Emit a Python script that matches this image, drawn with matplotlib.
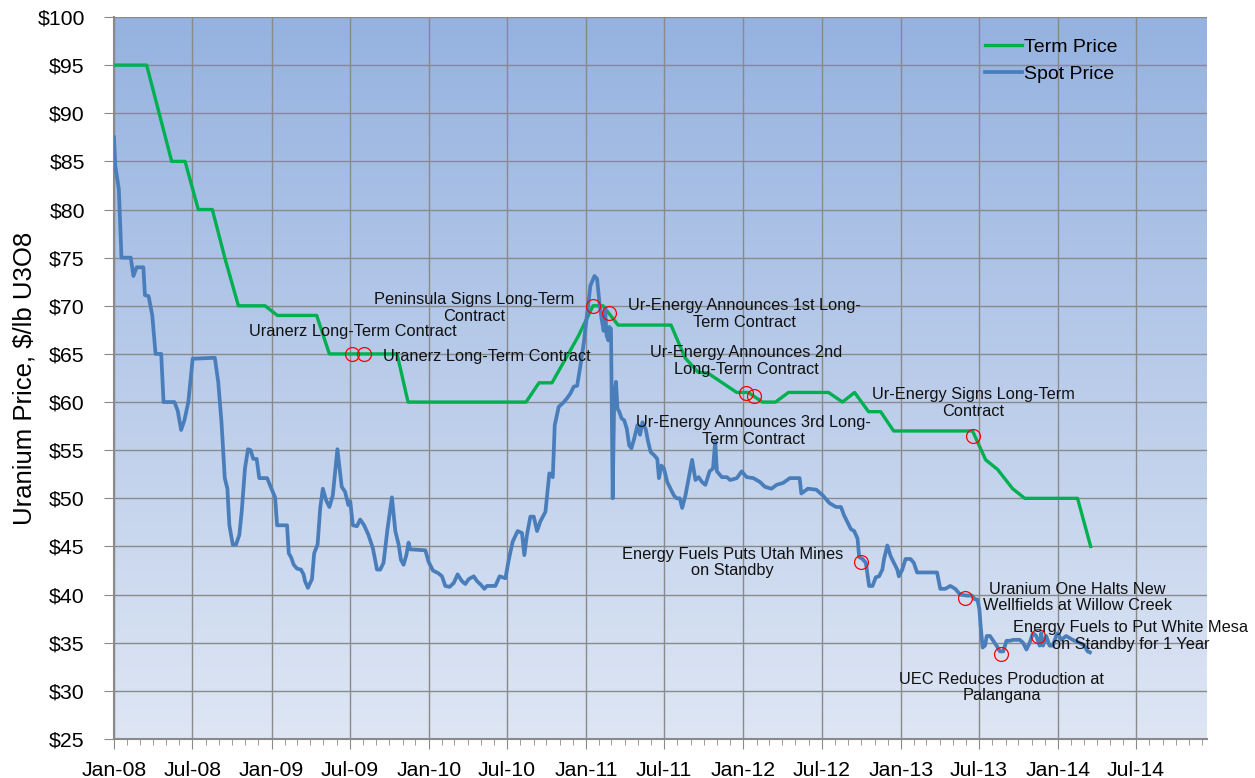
import numpy as np
import matplotlib
matplotlib.use("Agg")
import matplotlib.pyplot as plt
import matplotlib.dates as mdates
from matplotlib.ticker import FixedLocator, FixedFormatter
import datetime as dt

plt.rcParams['font.family'] = ['Liberation Sans', 'DejaVu Sans']

# ---------------- data (months since Jan-2008, $/lb) ----------------
term_month = [0, 2.49, 4.40, 5.42, 6.43, 7.5, 8.45, 9.49, 11.52, 12.46, 15.46, 16.43,
              21.59, 22.43, 31.43, 32.42, 33.41, 35.40, 36.54, 37.3, 38.45, 42.49,
              43.56, 44.55, 45.31, 47.5, 48.37, 49.47, 50.46, 51.45, 54.5, 55.57,
              56.49, 57.56, 58.48, 59.47, 65.49, 66.49, 67.40, 68.55, 69.47, 73.5, 74.5]
term_price = [95, 95, 85, 85, 80, 80, 75, 70, 70, 69, 69, 65,
              65, 60, 60, 62, 62, 66.8, 70, 70, 68, 68,
              64.6, 63.1, 63, 61, 61, 60, 60, 61, 61, 60,
              61, 59, 59, 57, 57, 54, 53, 51, 50, 50, 45]

spot_month = [0, 0.1, 0.37, 0.57, 1.28, 1.48, 1.73, 2.24, 2.36, 2.64,
              2.92, 3.17, 3.6, 3.78, 4.61, 4.86, 5.12, 5.37, 5.67, 6.0,
              7.69, 7.95, 8.2, 8.45, 8.65, 8.8, 9.06, 9.31, 9.56, 9.74,
              9.99, 10.22, 10.42, 10.62, 10.88, 11.08, 11.68, 12.04, 12.29, 12.44,
              13.2, 13.33, 13.5, 13.71, 13.96, 14.26, 14.46, 14.57, 14.79, 15.1,
              15.27, 15.53, 15.73, 15.93, 16.18, 16.43, 16.69, 17.04, 17.37, 17.62, 17.88,
              18.02, 18.22, 18.53, 18.78, 19.08, 19.41, 19.75, 20.06, 20.31, 20.56,
              20.87, 21.2, 21.46, 21.71, 21.89, 22.09, 22.3, 22.47, 22.6, 23.75,
              24.0, 24.33, 24.76, 25.02, 25.27, 25.6, 25.91, 26.21, 26.54, 26.8,
              27.05, 27.44, 27.69, 28.0, 28.25, 28.45, 29.09, 29.42, 29.86, 30.11,
              30.41, 30.79, 31.12, 31.3, 31.5, 31.76, 32.02, 32.27, 32.52, 32.91,
              33.21, 33.47, 33.62, 33.92, 34.31, 34.56, 34.82, 35.07, 35.33, 35.58,
              35.84, 36.14, 36.34,
              36.65, 36.85, 37.03, 37.2, 37.35, 37.46, 37.58, 37.71, 37.79, 37.91,
              38.04, 38.16, 38.29, 38.41, 38.54, 38.72, 38.92, 39.12, 39.3, 39.47,
              39.68, 39.93, 40.13, 40.31, 40.56, 40.74, 40.94, 41.19, 41.44, 41.57,
              41.75, 41.95, 42.2, 42.45, 42.71, 42.91, 43.16, 43.34, 43.59, 43.84,
              44.1, 44.35, 44.6, 44.85, 45.11, 45.43, 45.69, 45.86, 45.99, 46.37,
              46.75, 47.0, 47.51, 47.88, 48.26, 48.77, 49.27, 49.65, 50.15, 50.54,
              51.04, 51.55, 52.3, 52.43, 52.93, 53.57, 54.07, 54.58, 55.08,
              55.45, 55.7, 55.96, 56.21, 56.46, 56.72, 56.84, 57.1, 57.35, 57.6,
              57.86, 58.11, 58.36, 58.61, 58.74, 58.99, 59.24, 59.49, 59.75, 59.87,
              60.13, 60.38, 60.76, 61.01, 61.26, 61.52, 62.78, 63.03, 63.41, 63.79,
              64.17, 64.55, 65.05, 65.43, 65.68, 65.86, 66.01, 66.11, 66.26, 66.44,
              66.57, 66.82, 67.07, 67.32, 67.58, 67.83, 68.08, 68.33, 68.59, 69.09,
              69.34, 69.6, 69.85, 70.1, 70.35, 70.61, 70.73, 70.86, 71.11, 71.36,
              71.62, 71.87, 71.99, 72.25, 72.63, 73.13, 73.64, 74.02, 74.27, 74.44]
spot_price = [87.5, 84.5, 82.1, 75.0, 75.0, 73.1, 74.0, 74.0, 71.1, 71.0,
              69.0, 65.0, 65.0, 60.0, 60.0, 59.1, 57.1, 58.1, 60.0, 64.5,
              64.6, 62.1, 57.9, 52.1, 51.0, 47.2, 45.2, 45.2, 46.2, 48.6,
              53.1, 55.1, 55.0, 54.1, 54.1, 52.1, 52.1, 50.9, 50.1, 47.2,
              47.2, 44.3, 43.9, 43.1, 42.7, 42.6, 42.1, 41.4, 40.7, 41.6,
              44.3, 45.2, 49.0, 51.0, 49.8, 49.1, 50.3, 55.1, 51.2, 50.7, 49.3,
              49.7, 47.2, 47.1, 47.8, 47.2, 46.2, 44.8, 42.6, 42.6, 43.3,
              46.9, 50.1, 46.6, 45.2, 43.6, 43.1, 44.1, 45.4, 44.7, 44.6,
              43.4, 42.5, 42.2, 41.9, 40.9, 40.8, 41.2, 42.1, 41.4, 41.1,
              41.6, 41.9, 41.4, 41.0, 40.6, 40.9, 40.9, 41.9, 41.7, 43.6,
              45.5, 46.6, 46.4, 44.1, 46.2, 48.1, 48.1, 46.6, 47.6, 48.6,
              52.6, 52.2, 57.6, 59.5, 60.0, 60.4, 60.9, 61.6, 61.7, 63.8,
              66.2, 69.7, 72.1,
              73.1, 72.8, 70.3, 68.6, 67.4, 69.7, 66.9, 66.4, 67.8, 67.6,
              50.0, 60.7, 62.1, 59.3, 59.0, 58.3, 58.1, 57.2, 55.5, 55.2,
              56.2, 57.6, 56.6, 57.9, 57.2, 55.9, 54.8, 54.5, 54.1, 52.1,
              53.4, 53.1, 51.7, 51.0, 50.3, 50.0, 50.0, 49.0, 50.3, 52.1,
              54.0, 51.9, 52.2, 51.7, 51.4, 52.8, 53.1, 55.9, 52.8, 52.2,
              52.2, 51.9, 52.1, 52.8, 52.2, 52.1, 51.7, 51.2, 51.0, 51.4,
              51.6, 52.1, 52.1, 50.5, 51.0, 50.9, 50.3, 49.5, 49.1,
              49.1, 48.2, 47.5, 46.8, 46.6, 45.8, 43.9, 43.7, 43.3, 40.9,
              40.9, 41.8, 41.9, 42.6, 43.7, 45.1, 44.0, 43.3, 42.6, 41.9,
              42.6, 43.7, 43.7, 43.3, 42.3, 42.3, 42.3, 40.6, 40.6, 40.9,
              40.6, 40.0, 39.9, 39.9, 39.5, 39.5, 38.5, 36.7, 34.5, 34.7,
              35.7, 35.7, 35.2, 34.7, 34.1, 34.1, 35.2, 35.2, 35.3, 35.3,
              35.0, 34.3, 35.0, 36.0, 35.7, 34.7, 36.0, 34.7, 35.7, 34.7,
              34.7, 35.7, 36.0, 35.3, 35.7, 35.3, 35.0, 34.7, 34.1, 34.0]

# events: marker month, marker price, label
event_month = [18.16, 19.07, 36.55, 37.77, 48.22, 48.83, 65.54, 56.99, 64.93, 70.5, 67.67]
event_price = [65.0, 65.0, 70.0, 69.25, 60.94, 60.6, 56.5, 43.4, 39.65, 35.75, 33.8]
event_label = ["Uranerz Long-Term Contract",
               "Uranerz Long-Term Contract",
               "Peninsula Signs Long-Term\nContract",
               "Ur-Energy Announces 1st Long-\nTerm Contract",
               "Ur-Energy Announces 2nd\nLong-Term Contract",
               "Ur-Energy Announces 3rd Long-\nTerm Contract",
               "Ur-Energy Signs Long-Term\nContract",
               "Energy Fuels Puts Utah Mines\non Standby",
               "Uranium One Halts New\nWellfields at Willow Creek",
               "Energy Fuels to Put White Mesa\non Standby for 1 Year",
               "UEC Reduces Production at\nPalangana"]

y_ticks = [25, 30, 35, 40, 45, 50, 55, 60, 65, 70, 75, 80, 85, 90, 95, 100]
y_tick_labels = ["$" + str(v) for v in y_ticks]

# ---------------- layout ----------------
# label positions (month, price) and horizontal alignment
label_pos = [(18.23, 67.38, 'center'), (20.52, 64.78, 'left'), (27.47, 69.77, 'center'),
             (48.07, 69.15, 'center'), (48.22, 64.27, 'center'), (48.79, 57.0, 'center'),
             (65.54, 59.9, 'center'), (47.2, 43.33, 'center'), (73.47, 39.7, 'center'),
             (77.52, 35.7, 'center'), (67.73, 30.35, 'center')]

BASE = mdates.date2num(dt.datetime(2008, 1, 1))
DAYS_PER_MONTH = 30.4375


def to_x(m):
    return BASE + np.asarray(m, dtype=float) * DAYS_PER_MONTH


W, H = 1255, 778
fig = plt.figure(figsize=(W / 100, H / 100), dpi=100)
x0, x1, ytop, ybot = 114, 1206.7, 17, 739
ax = fig.add_axes([x0 / W, 1 - ybot / H, (x1 - x0) / W, (ybot - ytop) / H])

# gradient background
grad = np.linspace(0, 1, 256).reshape(-1, 1)
top = np.array([0x95, 0xB2, 0xE0]) / 255
bot = np.array([0xDE, 0xE6, 0xF4]) / 255
img = top[None, None, :] * (1 - grad[:, :, None]) + bot[None, None, :] * grad[:, :, None]
ax.imshow(img, extent=[0, 1, 0, 1], transform=ax.transAxes, aspect='auto', zorder=0)

ax.plot(to_x(term_month), term_price, color='#00B050', lw=2.4, zorder=3,
        label='Term Price', solid_joinstyle='round')
ax.plot(to_x(spot_month), spot_price, color='#4A7EBB', lw=2.7, zorder=3,
        label='Spot Price', solid_joinstyle='round')

ax.plot(to_x(event_month), event_price, linestyle='none', marker='o', ms=10,
        mfc='none', mec='#FF0000', mew=0.9, zorder=4)

for (lm, lp, ha), lab in zip(label_pos, event_label):
    ax.text(to_x(lm), lp, lab, ha=ha, va='center', multialignment='center',
            fontsize=11.8, color='#111111', linespacing=1.1, zorder=5)

ax.set_ylim(25, 100)
ax.set_xlim(BASE, mdates.date2num(dt.datetime(2014, 12, 12)))
ax.yaxis.set_major_locator(FixedLocator(y_ticks))
ax.yaxis.set_major_formatter(FixedFormatter(y_tick_labels))
ax.xaxis.set_major_locator(mdates.MonthLocator(bymonth=[1, 7]))
ax.xaxis.set_major_formatter(mdates.DateFormatter('%b-%y'))
ax.xaxis.set_minor_locator(mdates.MonthLocator())

ax.grid(True, which='major', color='#8A8A8A', lw=1.0)
ax.set_axisbelow(True)
for s in ['top', 'right']:
    ax.spines[s].set_visible(False)
for s in ['left', 'bottom']:
    ax.spines[s].set_color('#8A8A8A')
    ax.spines[s].set_linewidth(1.5)
ax.tick_params(axis='both', which='major', length=7, color='#8A8A8A', labelsize=15.3,
               labelcolor='#000000')
ax.tick_params(axis='x', which='minor', length=4, color='#8A8A8A')
ax.tick_params(axis='y', pad=14)
ax.tick_params(axis='x', pad=9)

fig.text(25 / W, 1 - 378 / H, 'Uranium Price, $/lb U3O8', rotation=90,
         ha='center', va='center', fontsize=18.5)

leg = ax.legend(loc='upper left', bbox_to_anchor=(985 / W, 1 - 38 / H),
                bbox_transform=fig.transFigure, frameon=False, fontsize=14,
                handlelength=1.9, handletextpad=0.1, labelspacing=0.5,
                borderpad=0, borderaxespad=0)

fig.savefig('out.png', dpi=100)
